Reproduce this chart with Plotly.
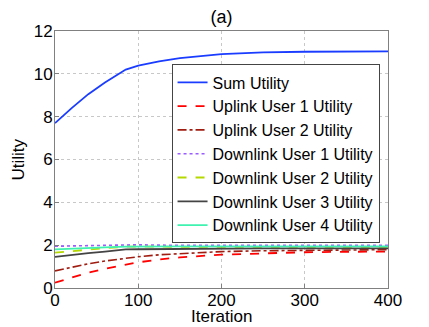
import plotly.graph_objects as go

# iterations
iteration = [0, 20, 40, 60, 85, 100, 125, 150, 200, 250, 300, 350, 400]

sum_utility = [7.7, 8.4, 9.05, 9.6, 10.2, 10.38, 10.58, 10.73, 10.92, 11.0, 11.03, 11.05, 11.05]
uplink_1 = [0.25, 0.5, 0.72, 0.9, 1.1, 1.2, 1.33, 1.43, 1.56, 1.63, 1.67, 1.69, 1.7]
uplink_2 = [0.8, 0.98, 1.13, 1.26, 1.4, 1.46, 1.55, 1.61, 1.7, 1.74, 1.76, 1.78, 1.79]
downlink_1 = [1.95, 1.97, 1.99, 2.0, 2.02, 2.02, 2.0, 2.0, 1.99, 1.99, 1.99, 1.99, 1.99]
downlink_2 = [1.65, 1.73, 1.8, 1.86, 1.93, 1.94, 1.93, 1.92, 1.92, 1.92, 1.92, 1.92, 1.92]
downlink_3 = [1.45, 1.55, 1.63, 1.7, 1.8, 1.81, 1.82, 1.83, 1.84, 1.85, 1.85, 1.85, 1.85]
downlink_4 = [1.8, 1.84, 1.87, 1.9, 1.93, 1.94, 1.94, 1.94, 1.94, 1.94, 1.94, 1.94, 1.94]

x_ticks = [0, 100, 200, 300, 400]
y_ticks = [0, 2, 4, 6, 8, 10, 12]

series = [
    ("Sum Utility", sum_utility, dict(color="#1a3cff", width=1.8, dash="solid")),
    ("Uplink User 1 Utility", uplink_1, dict(color="#ff0000", width=1.8, dash="dash")),
    ("Uplink User 2 Utility", uplink_2, dict(color="#a01c10", width=1.6, dash="dashdot")),
    ("Downlink User 1 Utility", downlink_1, dict(color="#9a5cff", width=1.6, dash="dot")),
    ("Downlink User 2 Utility", downlink_2, dict(color="#b5d800", width=1.8, dash="dash")),
    ("Downlink User 3 Utility", downlink_3, dict(color="#444444", width=1.8, dash="solid")),
    ("Downlink User 4 Utility", downlink_4, dict(color="#3ff2b0", width=1.8, dash="solid")),
]

fig = go.Figure()
for name, vals, line in series:
    fig.add_trace(go.Scatter(x=iteration, y=vals, mode="lines", name=name, line=line))

# page body has an 8px margin, so the figure is shifted by 8px
fig.update_layout(
    width=421, height=319,
    margin={"l": 47, "r": 41, "t": 23, "b": 39, "pad": 0},
    paper_bgcolor="white", plot_bgcolor="white",
    font=dict(family="Liberation Sans, Arial, sans-serif", size=17, color="black"),
    title=dict(text="(a)", x=0.5, xref="paper", y=0.974, yanchor="middle",
               font=dict(size=18)),
    showlegend=True,
    legend=dict(x=0.35, y=0.87, xanchor="left", yanchor="top",
                bgcolor="white", bordercolor="#444444", borderwidth=1,
                font=dict(size=16), tracegroupgap=0, itemwidth=30),
    annotations=[
        dict(text="Iteration", x=0.5, y=-0.112, xref="paper", yref="paper",
             xanchor="center", yanchor="middle", showarrow=False, font=dict(size=17)),
        dict(text="Utility", x=-0.111, y=0.5, xref="paper", yref="paper",
             xanchor="center", yanchor="middle", showarrow=False, textangle=-90,
             font=dict(size=17)),
    ],
)

fig.update_xaxes(
    range=[0, 400], tickvals=x_ticks, showgrid=True, gridcolor="#c8c8c8",
    griddash="dot", gridwidth=1, showline=True, linecolor="#808080", mirror=True,
    ticks="inside", ticklen=4, tickcolor="#808080", zeroline=False, automargin=False,
    tickfont=dict(size=17), ticklabelstandoff=-3,
)
fig.update_yaxes(
    range=[0, 12], tickvals=y_ticks, showgrid=True, gridcolor="#c8c8c8",
    griddash="dot", gridwidth=1, showline=True, linecolor="#808080", mirror=True,
    ticks="inside", ticklen=4, tickcolor="#808080", zeroline=False, automargin=False,
    tickfont=dict(size=17), ticklabelstandoff=-2,
)

fig.write_html("out.html")
